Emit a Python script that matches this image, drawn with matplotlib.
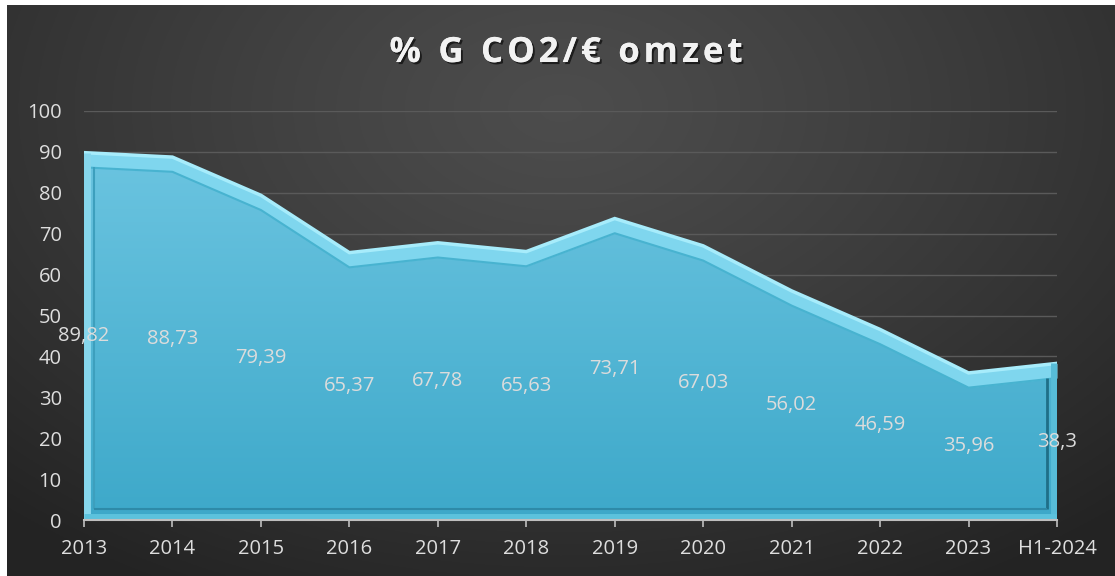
import numpy as np
import matplotlib
matplotlib.use("Agg")
import matplotlib.pyplot as plt
import matplotlib.patheffects as pe
from matplotlib.patches import Polygon

categories = ["2013", "2014", "2015", "2016", "2017", "2018", "2019", "2020",
              "2021", "2022", "2023", "H1-2024"]
values = [89.82, 88.73, 79.39, 65.37, 67.78, 65.63, 73.71, 67.03,
          56.02, 46.59, 35.96, 38.3]
labels = ["89,82", "88,73", "79,39", "65,37", "67,78", "65,63", "73,71", "67,03",
          "56,02", "46,59", "35,96", "38,3"]
yticks = [0, 10, 20, 30, 40, 50, 60, 70, 80, 90, 100]
title = "% G CO2/€ omzet"

W, H = 1115, 576
fig = plt.figure(figsize=(W / 100, H / 100), dpi=100, facecolor="white")

# background radial gradient
bg = fig.add_axes([7 / W, 0, 1 - 7 / W, 1 - 5 / H])
bg.set_axis_off()
yy, xx = np.mgrid[0:1:300j, 0:1:600j]
r = np.sqrt(((xx - 0.5) / 0.75) ** 2 + ((yy - 0.82) / 0.95) ** 2)
r = np.clip(r, 0, 1)
c = 0.30 - 0.16 * r ** 1.2
img = np.dstack([c, c, c])
bg.imshow(img, extent=[0, 1, 0, 1], origin="lower", aspect="auto")
bg.set_xlim(0, 1)
bg.set_ylim(0, 1)

ax = fig.add_axes([84 / W, 1 - 520 / H, (1057 - 84) / W, (520 - 111) / H])
ax.patch.set_alpha(0)
x = np.arange(len(categories))
ax.set_xlim(0, len(categories) - 1)
ax.set_ylim(0, 100)

for t in yticks[1:]:
    ax.axhline(t, color="#5a5a5a", lw=1, zorder=0)

# area with vertical gradient
verts = [(0, 0)] + list(zip(x, values)) + [(x[-1], 0)]
poly = Polygon(verts, closed=True, facecolor="none", edgecolor="none")
ax.add_patch(poly)
grad = np.linspace(0, 1, 256).reshape(-1, 1)
top = np.array([0.42, 0.77, 0.88])
bot = np.array([0.24, 0.66, 0.79])
gimg = bot + (top - bot) * grad[..., None]
gimg = np.repeat(gimg, 2, axis=1)
im = ax.imshow(gimg, extent=[0, x[-1], 0, 90], origin="lower", aspect="auto", zorder=1)
im.set_clip_path(poly)

# bevel: outer light band along top
vals = np.array(values)
ax.fill_between(x, vals - 3.6, vals, color="#7fd6ee", zorder=2, lw=0)
ax.plot(x, vals, color="#a7ecfb", lw=2.5, zorder=3, solid_joinstyle="miter")
ax.plot(x, vals - 3.6, color="#48b3d0", lw=1.5, zorder=3)
# side and bottom bevel edges
kw = dict(zorder=3, solid_capstyle="butt")
ax.plot([0.035, 0.035], [0, values[0]], color="#86d6ec", lw=5, **kw)
ax.plot([0.11, 0.11], [2.6, values[0] - 3.6], color="#3d9fbd", lw=1.5, **kw)
ax.plot([x[-1] - 0.035, x[-1] - 0.035], [0, values[-1]], color="#57bcd8", lw=5, **kw)
ax.plot([x[-1] - 0.11, x[-1] - 0.11], [2.6, values[-1] - 3.6], color="#1f6f88", lw=2, **kw)
ax.plot([0.0, x[-1]], [0.8, 0.8], color="#5cc2dd", lw=5, **kw)
ax.plot([0.11, x[-1] - 0.11], [2.6, 2.6], color="#2e8aa8", lw=1.5, **kw)

for xi, v, lab in zip(x, values, labels):
    ax.text(xi, v / 2, lab, ha="center", va="center", color="#dcdcdc",
            fontsize=14.5, family="Open Sans", zorder=5)

ax.set_yticks(yticks)
ax.set_yticklabels([str(t) for t in yticks], color="#dedede", fontsize=14.5, family="Open Sans")
ax.set_xticks(x)
ax.set_xticklabels(categories, color="#dedede", fontsize=14.5, family="Open Sans")
ax.tick_params(axis="y", length=0, pad=16)
ax.tick_params(axis="x", length=5, color="#bfbfbf", pad=9, width=1.2)
for s in ["top", "right", "left"]:
    ax.spines[s].set_visible(False)
ax.spines["bottom"].set_color("#bfbfbf")
ax.spines["bottom"].set_linewidth(1.5)
ax.spines["bottom"].set_zorder(4)

# title with extra letter spacing
fig.canvas.draw()
renderer = fig.canvas.get_renderer()
tkw = dict(color="#f2f2f2", fontsize=25, fontweight="bold", family="Open Sans",
           va="center", ha="left",
           path_effects=[pe.withSimplePatchShadow(offset=(1.5, -1.5), shadow_rgbFace="black", alpha=0.6),
                         pe.Normal()])
track = 4.0  # px
widths = []
tmp = []
for ch in title:
    t = fig.text(0, 0, ch if ch != " " else "a", **tkw)
    bb = t.get_window_extent(renderer)
    w = bb.width if ch != " " else bb.width * 0.45
    widths.append(w)
    t.remove()
total = sum(widths) + track * (len(title) - 1)
xpos = 566 - total / 2
ty = 1 - 53 / H
for ch, w in zip(title, widths):
    if ch != " ":
        fig.text(xpos / W, ty, ch, **tkw)
    xpos += w + track

fig.savefig("out.png", dpi=100, facecolor="white")
